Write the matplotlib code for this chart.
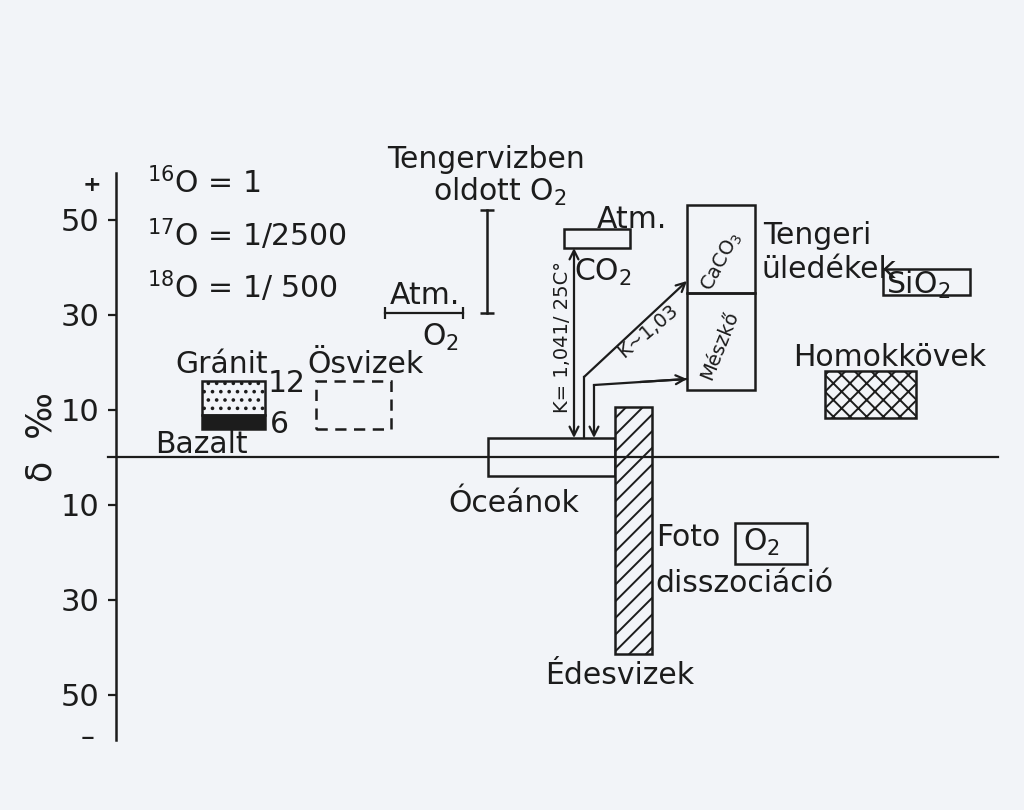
import numpy as np
import matplotlib.pyplot as plt
from matplotlib.patches import Rectangle

# delta-18O ranges (per mil)
granit = (8.8, 16.0)
bazalt = (5.9, 8.8)
osvizek = (5.9, 16.0)
atm_o2 = 30.3
tenger_o2 = (30.3, 52.0)
atm_co2 = (44.0, 48.0)
caco3 = (34.5, 53.1)
meszko = (14.1, 34.5)
sio2 = (34.1, 39.6)
homokkovek = (8.2, 18.1)
oceanok = (-4.0, 4.0)
edesvizek = (-41.5, 10.5)
foto_o2 = (-22.5, -13.9)

ticks = [-50, -30, -10, 10, 30, 50]
tick_labels = ['50', '30', '10', '10', '30', '50']

ink = '#1c1c1c'
bg = '#f2f4f8'
plt.rcParams['font.family'] = ['DejaVu Sans']
plt.rcParams['hatch.linewidth'] = 1.4
plt.rcParams['hatch.color'] = ink


def Y(p):
    # pixel row of the scanned sheet -> delta value
    return (457 - p) / 4.75


def box(x0, x1, rng, **kw):
    kw.setdefault('fc', 'none')
    r = Rectangle((x0, rng[0]), x1 - x0, rng[1] - rng[0], ec=ink, lw=1.8, **kw)
    ax.add_patch(r)


def arrow(p0, p1, style='->'):
    ax.annotate('', xy=p1, xytext=p0,
                arrowprops=dict(arrowstyle=style, lw=1.6, color=ink,
                                shrinkA=0, shrinkB=0, mutation_scale=16))


fig = plt.figure(figsize=(10.24, 8.10), dpi=100)
fig.patch.set_facecolor(bg)
ax = fig.add_axes([0, 0, 1, 1])
ax.set_facecolor(bg)
ax.set_xlim(0, 1024)
ax.set_ylim(Y(810), Y(0))

# axis
for s in ['top', 'right', 'bottom']:
    ax.spines[s].set_visible(False)
ax.spines['left'].set_position(('data', 116))
ax.spines['left'].set_bounds(Y(740), Y(173))
ax.spines['left'].set_linewidth(1.8)
ax.spines['left'].set_color(ink)
ax.set_xticks([])
ax.set_yticks(ticks)
ax.set_yticklabels(tick_labels)
ax.tick_params(axis='y', direction='out', length=6, width=1.6, pad=6,
               labelsize=22, colors=ink)
ax.plot([108, 998], [0, 0], color=ink, lw=1.6)
ax.text(92, Y(185), '+', fontsize=16, fontweight='bold', ha='center', va='center', color=ink)
ax.text(88, Y(738), '–', fontsize=20, ha='center', va='center', color=ink)
ax.text(42, Y(437), 'δ  ‰', rotation=90, fontsize=25, ha='center', va='center', color=ink)

fs = 21.5
def t(x, p, s, **kw):
    kw.setdefault('fontsize', fs)
    kw.setdefault('va', 'center')
    ax.text(x, Y(p), s, color=ink, **kw)

# isotope abundances
t(147, 183, r'$^{16}$O = 1')
t(147, 235, r'$^{17}$O = 1/2500')
t(147, 287, r'$^{18}$O = 1/ 500')

# granite / basalt
box(202, 265, granit, hatch='..')
box(202, 265, bazalt, fc=ink)
t(175, 364, 'Gránit')
t(268, 383, '12')
t(270, 424, '6')
t(155, 444, 'Bazalt')

# primordial waters
box(316, 391, osvizek, ls=(0, (4.5, 3)))
t(307, 364, 'Ösvizek')

# atmospheric O2
ax.plot([385, 463], [atm_o2, atm_o2], color=ink, lw=1.6)
ax.plot([385, 463], [atm_o2, atm_o2], ls='none', marker='|', ms=9, mew=1.6, color=ink)
t(390, 296, 'Atm.')
t(422, 337, r'O$_2$')

# O2 dissolved in sea water
ax.plot([487, 487], tenger_o2, color=ink, lw=1.8)
ax.plot([487, 487], tenger_o2, ls='none', marker='_', ms=10, mew=1.8, color=ink)
t(486, 159, 'Tengervizben', ha='center')
t(433, 192, r'oldott O$_2$')

# atmospheric CO2
box(564, 630, atm_co2)
t(597, 220, 'Atm.')
t(574, 272, r'CO$_2$')

# oceans
box(488, 615, oceanok)
t(448, 503, 'Óceánok')

# fractionation arrows
arrow((574, oceanok[1]), (574, atm_co2[0]), '<->')
t(562, 337, 'K= 1,041/ 25C°', fontsize=14, rotation=90, ha='center')
ax.plot([584, 584], [oceanok[1], Y(377)], color=ink, lw=1.6)
arrow((584, Y(377)), (687, Y(281)))
t(648, 331, 'K~1,03', fontsize=14, rotation=40, ha='center')
ax.plot([594, 687], [Y(385), Y(379)], color=ink, lw=1.6)
arrow((594, Y(385)), (594, oceanok[1]))
arrow((640, Y(382)), (687, Y(379)))

# marine carbonates
box(687, 755, caco3)
box(687, 755, meszko)
t(722, 262, r'CaCO$_3$', fontsize=14, rotation=62, ha='center')
t(720, 345, 'Mészkő', fontsize=14, rotation=68, ha='center')
t(763, 236, 'Tengeri')
t(761, 270, 'üledékek')
box(883, 970, sio2)
t(886, 285, r'SiO$_2$')

# sandstones
box(825, 916, homokkovek, hatch='xx')
t(793, 357, 'Homokkövek')

# fresh waters
box(615, 652, edesvizek, hatch='//', fc=bg)
t(545, 675, 'Édesvizek')

# photodissociation
box(735, 807, foto_o2)
t(656, 537, 'Foto')
t(743, 542, r'O$_2$')
t(655, 583, 'disszociáció')

fig.savefig('out.png', dpi=100, facecolor=bg)
